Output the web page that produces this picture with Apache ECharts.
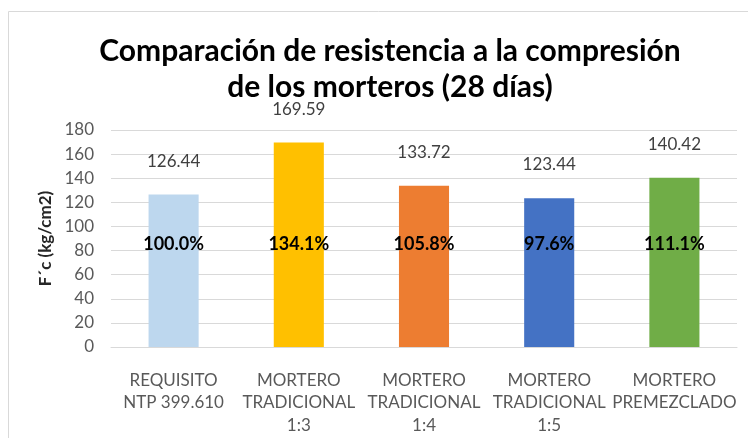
<!DOCTYPE html>
<html>
<head>
<meta charset="utf-8">
<script src="https://cdn.jsdelivr.net/npm/echarts@6/dist/echarts.min.js"></script>
<style>
  html, body { margin: 0; padding: 0; background: #fff; }
  #chart { width: 748px; height: 438px; }
</style>
</head>
<body>
<div id="chart"></div>
<script>
const categories = [
  'REQUISITO\nNTP 399.610',
  'MORTERO\nTRADICIONAL\n1:3',
  'MORTERO\nTRADICIONAL\n1:4',
  'MORTERO\nTRADICIONAL\n1:5',
  'MORTERO\nPREMEZCLADO'
];
const strengths = [126.44, 169.59, 133.72, 123.44, 140.42];
const percents = ['100.0%', '134.1%', '105.8%', '97.6%', '111.1%'];
const barColors = ['#BDD7EE', '#FFC000', '#ED7D31', '#4472C4', '#70AD47'];

const chart = echarts.init(document.getElementById('chart'));

const font = 'Lato, "Open Sans", sans-serif';

chart.setOption({
  animation: false,
  textStyle: { fontFamily: font },
  title: {
    text: 'Comparación de resistencia a la compresión\nde los morteros (28 días)',
    left: 385,
    textAlign: 'center',
    top: 28,
    textStyle: { fontSize: 30, fontWeight: 'bold', color: '#000', lineHeight: 36, fontFamily: font }
  },
  graphic: [{
    type: 'rect',
    shape: { x: 8.5, y: 11.5, width: 760, height: 440 },
    style: { fill: 'none', stroke: '#d9d9d9', lineWidth: 1 },
    silent: true
  }],
  grid: { left: 111, right: 11, top: 130, bottom: 91 },
  xAxis: {
    type: 'category',
    data: categories,
    axisLine: { lineStyle: { color: '#d9d9d9' } },
    axisTick: { show: false },
    axisLabel: { color: '#595959', fontSize: 17, lineHeight: 22.5, margin: 22, interval: 0 }
  },
  yAxis: {
    type: 'value',
    min: 0, max: 180, interval: 20,
    name: 'F´c (kg/cm2)',
    nameLocation: 'middle',
    nameGap: 52,
    nameTextStyle: { fontSize: 17, fontWeight: 'bold', color: '#262626' },
    axisLine: { show: false },
    axisTick: { show: false },
    axisLabel: { color: '#595959', fontSize: 17, margin: 17 },
    splitLine: { lineStyle: { color: '#d9d9d9' } }
  },
  series: [{
    type: 'bar',
    barWidth: '40%',
    data: strengths.map((v, i) => ({ value: v, itemStyle: { color: barColors[i] } })),
    label: {
      show: true,
      position: 'top',
      distance: 25,
      color: '#404040',
      fontSize: 17,
      formatter: p => p.value.toFixed(2)
    }
  }, {
    type: 'bar',
    barWidth: '40%',
    barGap: '-100%',
    data: strengths.map(v => ({ value: v, itemStyle: { color: 'transparent' } })),
    label: {
      show: true,
      position: 'insideBottom',
      distance: 94,
      color: '#000',
      fontSize: 18,
      fontWeight: 'bold',
      formatter: p => percents[p.dataIndex]
    }
  }]
});
</script>
</body>
</html>
